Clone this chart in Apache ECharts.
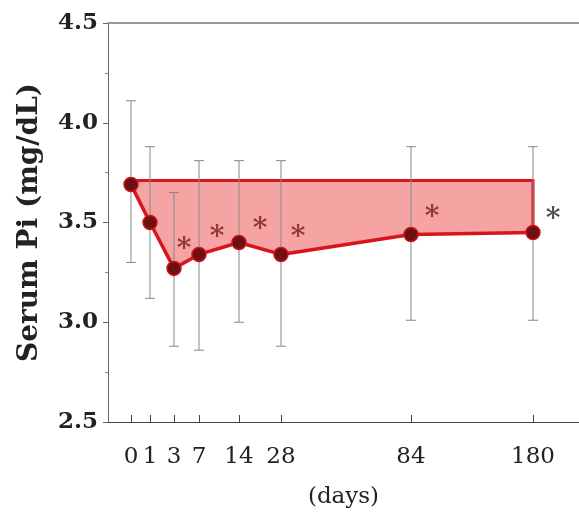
<!DOCTYPE html>
<html>
<head>
<meta charset="utf-8">
<script src="https://cdn.jsdelivr.net/npm/echarts@6/dist/echarts.min.js"></script>
<style>
  html, body { margin: 0; padding: 0; background: #fff; }
  #chart { width: 579px; height: 516px; }
</style>
</head>
<body>
<div id="chart"></div>
<script>
// days sampled and where each one sits on the (non-linear) time axis
const days = [0, 1, 3, 7, 14, 28, 84, 180];
const dayPos = [0, 19, 43, 68, 108, 150, 280, 402];
// serum Pi mean and error bar ends (mg/dL)
const meanPi = [3.69, 3.50, 3.27, 3.34, 3.40, 3.34, 3.44, 3.45];
const upperPi = [4.11, 3.88, 3.65, 3.81, 3.81, 3.81, 3.88, 3.88];
const lowerPi = [3.30, 3.12, 2.88, 2.86, 3.00, 2.88, 3.01, 3.01];
const baselinePi = 3.71;
// significance markers
const starPos = [53, 86, 129, 167, 301, 422];
const starPi = [3.40, 3.46, 3.50, 3.46, 3.56, 3.55];
const starColor = ['#7a1a1a', '#7a1a1a', '#7a1a1a', '#7a1a1a', '#7a1a1a', '#222'];

const serif = '"DejaVu Serif", "Liberation Serif", serif';
const chart = echarts.init(document.getElementById('chart'));

const meanData = days.map((d, i) => [dayPos[i], meanPi[i]]);
const errData = days.map((d, i) => [dayPos[i], lowerPi[i], upperPi[i]]);

const option = {
  animation: false,
  grid: { left: 108, right: 0, top: 23, bottom: 94 },
  xAxis: [{
    type: 'value',
    min: -23,
    max: 448,
    name: '(days)',
    nameLocation: 'middle',
    nameGap: 64,
    nameTextStyle: { fontFamily: serif, fontSize: 23, color: '#222' },
    splitLine: { show: false },
    axisLine: { onZero: false, lineStyle: { color: '#444', width: 1 } },
    axisTick: { customValues: dayPos, inside: true, length: 7, lineStyle: { color: '#444' } },
    axisLabel: {
      customValues: dayPos,
      formatter: v => days[dayPos.indexOf(v)],
      fontFamily: serif, fontSize: 23, color: '#222', margin: 24
    }
  }, {
    type: 'value',
    position: 'top',
    min: -23,
    max: 448,
    splitLine: { show: false },
    axisLine: { show: true, onZero: false, lineStyle: { color: '#999', width: 2 } },
    axisTick: { show: false },
    axisLabel: { show: false }
  }],
  yAxis: {
    type: 'value',
    min: 2.5,
    max: 4.5,
    interval: 0.5,
    name: 'Serum Pi (mg/dL)',
    nameLocation: 'middle',
    nameGap: 64,
    nameTextStyle: { fontFamily: serif, fontSize: 28, fontWeight: 'bold', color: '#222' },
    splitLine: { show: false },
    axisLine: { show: true, onZero: false, lineStyle: { color: '#666' } },
    axisTick: { length: 5, lineStyle: { color: '#666' } },
    minorTick: { show: true, splitNumber: 2, length: 3, lineStyle: { color: '#888' } },
    axisLabel: {
      formatter: v => v.toFixed(1),
      fontFamily: serif, fontSize: 23, fontWeight: 'bold', color: '#222', margin: 10
    }
  },
  series: [{
    // shaded area between baseline and the mean curve
    type: 'custom',
    z: 1,
    data: [[0]],
    renderItem: (params, api) => {
      const top = [api.coord([dayPos[0], baselinePi]), api.coord([dayPos[dayPos.length - 1], baselinePi])];
      const curve = meanData.map(p => api.coord(p)).reverse();
      const poly = top.concat(curve);
      return {
        type: 'group',
        children: [{
          type: 'polygon',
          shape: { points: poly },
          style: { fill: '#f6a3a3', stroke: null }
        }, {
          type: 'polyline',
          shape: { points: top.concat([curve[0]]) },
          style: { stroke: '#d8141c', lineWidth: 3, fill: null }
        }]
      };
    }
  }, {
    // error bars
    type: 'custom',
    z: 2,
    data: errData,
    renderItem: (params, api) => {
      const lo = api.coord([api.value(0), api.value(1)]);
      const hi = api.coord([api.value(0), api.value(2)]);
      const s = { stroke: '#888', lineWidth: 1 };
      return {
        type: 'group',
        children: [
          { type: 'line', shape: { x1: lo[0], y1: lo[1], x2: hi[0], y2: hi[1] }, style: s },
          { type: 'line', shape: { x1: lo[0] - 5, y1: lo[1], x2: lo[0] + 5, y2: lo[1] }, style: s },
          { type: 'line', shape: { x1: hi[0] - 5, y1: hi[1], x2: hi[0] + 5, y2: hi[1] }, style: s }
        ]
      };
    }
  }, {
    type: 'line',
    z: 3,
    data: meanData,
    symbol: 'circle',
    symbolSize: 14,
    lineStyle: { color: '#d8141c', width: 3.5 },
    itemStyle: { color: '#6e1010', borderColor: '#c8141c', borderWidth: 1.5 }
  }, {
    type: 'scatter',
    z: 4,
    symbolSize: 0,
    data: starPos.map((x, i) => ({
      value: [x, starPi[i]],
      label: { color: starColor[i] }
    })),
    label: {
      show: true,
      position: 'inside',
      formatter: '*',
      fontFamily: serif,
      fontWeight: 'bold',
      fontSize: 28,
      offset: [0, 7]
    }
  }]
};

chart.setOption(option);
</script>
</body>
</html>
